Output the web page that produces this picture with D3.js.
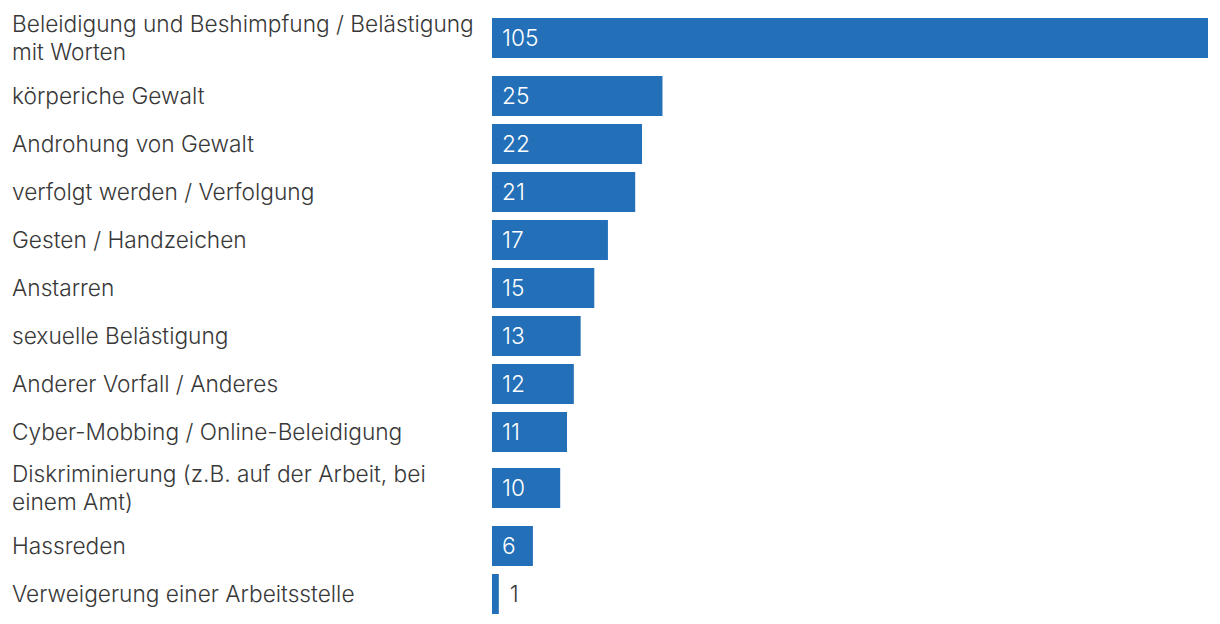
<!DOCTYPE html>
<html>
<head>
<meta charset="utf-8">
<script src="https://cdn.jsdelivr.net/npm/d3@7"></script>
<style>
  html, body { margin: 0; padding: 0; background: #ffffff; }
  svg { display: block; }
  text { font-family: Inter, "Noto Sans", sans-serif; font-weight: 300; }
</style>
</head>
<body>
<svg id="chart" width="1220" height="624"></svg>
<script>
const categories = [
  "Beleidigung und Beshimpfung / Belästigung mit Worten",
  "körperiche Gewalt",
  "Androhung von Gewalt",
  "verfolgt werden / Verfolgung",
  "Gesten / Handzeichen",
  "Anstarren",
  "sexuelle Belästigung",
  "Anderer Vorfall / Anderes",
  "Cyber-Mobbing / Online-Beleidigung",
  "Diskriminierung (z.B. auf der Arbeit, bei einem Amt)",
  "Hassreden",
  "Verweigerung einer Arbeitsstelle"
];
const values = [105, 25, 22, 21, 17, 15, 13, 12, 11, 10, 6, 1];

const W = 1220, H = 624;
const labelX = 12, labelMaxW = 470;
const barLeft = 492, barRight = 1208;
const barH = 40;
const fontSize = 22.7;
const lineH = 28;
const barColor = "#2370b8";
const textColor = "#383838";

const svg = d3.select("#chart");

const x = d3.scaleLinear().domain([0, d3.max(values)]).range([barLeft, barRight]);

// measure & wrap labels
const meas = svg.append("text").attr("font-size", fontSize).attr("visibility", "hidden");
function wrap(str) {
  const words = str.split(" ");
  const lines = [];
  let cur = "";
  for (const w of words) {
    const test = cur ? cur + " " + w : w;
    meas.text(test);
    if (meas.node().getComputedTextLength() > labelMaxW && cur) {
      lines.push(cur);
      cur = w;
    } else cur = test;
  }
  if (cur) lines.push(cur);
  return lines;
}
const rows = categories.map((c, i) => ({ cat: c, value: values[i], lines: wrap(c) }));
meas.remove();

// row layout: single-line band 48, extra 18 per extra line
let yCursor = 6;
rows.forEach(r => {
  const extra = r.lines.length - 1;
  r.band = 48 + extra * 18;
  r.barY = yCursor + 4 + extra * 8;
  r.cy = r.barY + barH / 2;
  yCursor += r.band;
});

const g = svg.append("g");

const row = g.selectAll("g.row").data(rows).join("g").attr("class", "row");

row.append("rect")
  .attr("x", x(0))
  .attr("y", d => d.barY)
  .attr("width", d => x(d.value) - x(0))
  .attr("height", barH)
  .attr("fill", barColor);

row.append("text")
  .attr("x", labelX)
  .attr("font-size", fontSize)
  .attr("fill", textColor)
  .each(function(d) {
    const t = d3.select(this);
    const n = d.lines.length;
    d.lines.forEach((ln, k) => {
      t.append("tspan")
        .attr("x", labelX)
        .attr("y", d.cy + (k - (n - 1) / 2) * lineH)
        .attr("dy", "0.35em")
        .text(ln);
    });
  });

row.append("text")
  .attr("font-size", fontSize)
  .attr("dy", "0.35em")
  .attr("y", d => d.cy)
  .text(d => d.value)
  .each(function(d) {
    const t = d3.select(this);
    const tw = this.getComputedTextLength();
    const bw = x(d.value) - x(0);
    if (bw >= tw + 20) {
      t.attr("x", x(0) + 10).attr("fill", "#ffffff");
    } else {
      t.attr("x", x(d.value) + 11).attr("fill", textColor);
    }
  });
</script>
</body>
</html>
